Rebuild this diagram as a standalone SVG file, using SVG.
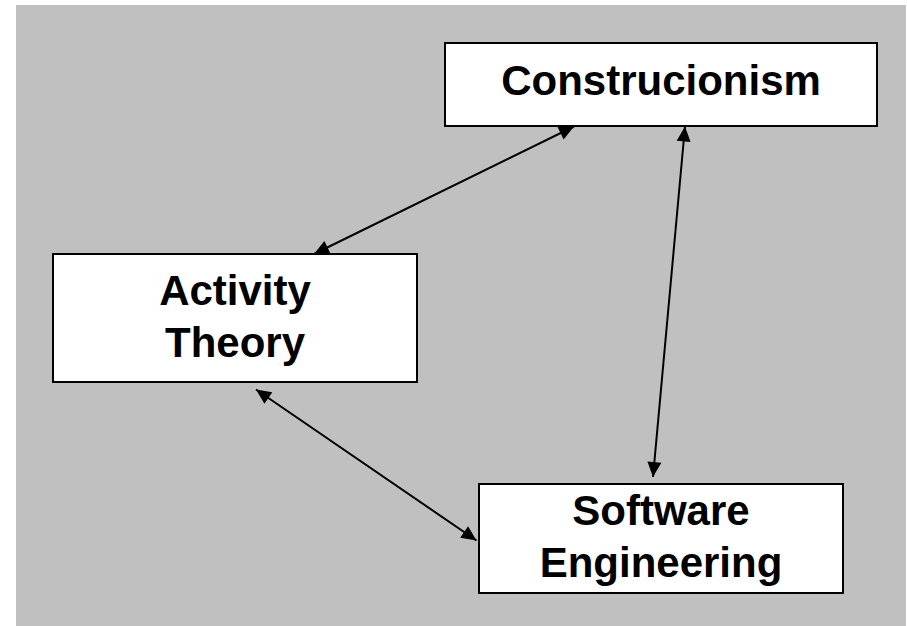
<svg xmlns="http://www.w3.org/2000/svg" width="907" height="626" viewBox="0 0 907 626">
  <style>
    .node rect { fill: #ffffff; stroke: #000000; stroke-width: 2; }
    .node text { font-family: "Liberation Sans", Arial, sans-serif; font-weight: bold; font-size: 42px; fill: #000000; text-anchor: middle; }
    .edge { stroke: #000000; stroke-width: 2; fill: none; marker-start: url(#arrow); marker-end: url(#arrow); }
  </style>
  <defs>
    <marker id="arrow" viewBox="-16 -8 17 16" refX="0" refY="0" markerWidth="17" markerHeight="16" markerUnits="userSpaceOnUse" orient="auto-start-reverse">
      <path d="M0,0 L-15,-7 L-15,7 Z" fill="#000000"/>
    </marker>
  </defs>
  <rect x="16" y="5" width="890" height="621" fill="#c0c0c0"/>
  <g id="connectors">
    <line class="edge" x1="314" y1="254" x2="574" y2="126.5"/>
    <line class="edge" x1="685" y1="126.5" x2="653" y2="477"/>
    <line class="edge" x1="256" y1="389.5" x2="476.5" y2="540.5"/>
  </g>
  <g id="construcionism" class="node">
    <rect x="445" y="43" width="432" height="83"/>
    <text x="661" y="95">Construcionism</text>
  </g>
  <g id="activity-theory" class="node">
    <rect x="53" y="254" width="364" height="128"/>
    <text x="235" y="305">Activity</text>
    <text x="235" y="357">Theory</text>
  </g>
  <g id="software-engineering" class="node">
    <rect x="479" y="484" width="364" height="109"/>
    <text x="661" y="525">Software</text>
    <text x="661" y="577">Engineering</text>
  </g>
</svg>
